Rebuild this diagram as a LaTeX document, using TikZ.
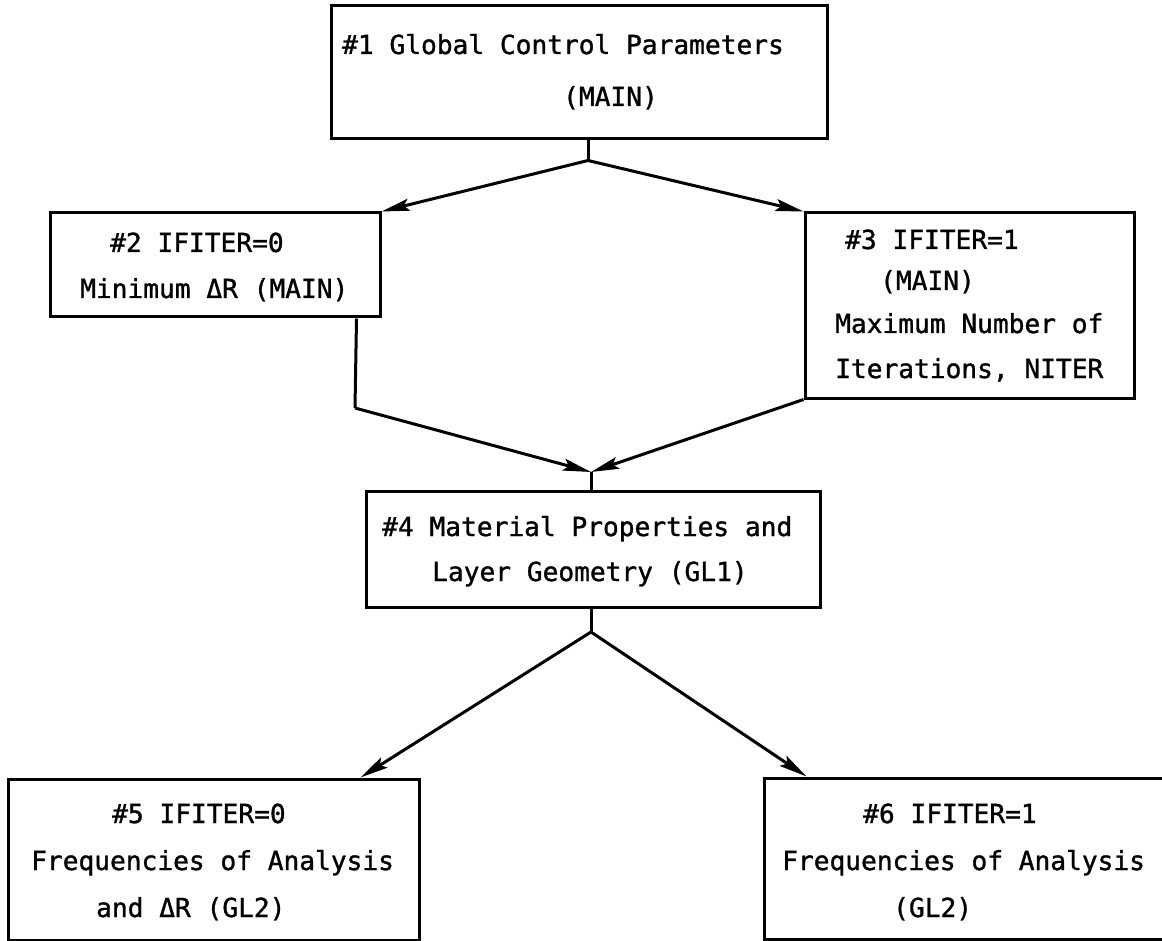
\documentclass[tikz,border=0pt]{standalone}
\usepackage{fontspec}
\newfontfamily\diagfont[FakeBold=1.2]{DejaVu Sans Mono}
\usetikzlibrary{arrows.meta,calc}
\begin{document}
\begin{tikzpicture}[x=1pt,y=-1pt,
  box/.style={draw,line width=3pt,inner sep=0pt},
  txt/.style={anchor=base west,inner sep=0pt,font=\diagfont\fontsize{26.2}{30}\selectfont},
  link/.style={line width=3pt},
  arr/.style={line width=3pt,-{Stealth[length=28pt,width=12pt,inset=5pt]}}]
\useasboundingbox (0,0) rectangle (1162,941);
% boxes
\node[box,minimum width=496pt,minimum height=133pt] (b1) at (579,72.5) {};
\node[box,minimum width=330pt,minimum height=104pt] (b2) at (215,265) {};
\node[box,minimum width=329pt,minimum height=185pt] (b3) at (969.5,305.5) {};
\node[box,minimum width=454pt,minimum height=116pt] (b4) at (593,549) {};
\node[box,minimum width=411pt,minimum height=161pt] (b5) at (213.5,859.5) {};
\node[box,minimum width=411pt,minimum height=161pt] (b6) at (969.5,858.5) {};
% texts
\node[txt] (t1a) at (342,54) {\#1 Global Control Parameters};
\node[txt] (t1b) at (563,106) {(MAIN)};
\node[txt] (t2a) at (110,252) {\#2 IFITER=0};
\node[txt] (t2b) at (80,298) {Minimum ΔR (MAIN)};
\node[txt] (t3a) at (845,249) {\#3 IFITER=1};
\node[txt] (t3b) at (880,290) {(MAIN)};
\node[txt] (t3c) at (835,333) {Maximum Number of};
\node[txt] (t3d) at (835,378) {Iterations, NITER};
\node[txt] (t4a) at (382,536) {\#4 Material Properties and};
\node[txt] (t4b) at (432,581) {Layer Geometry (GL1)};
\node[txt] (t5a) at (112,823) {\#5 IFITER=0};
\node[txt] (t5b) at (31,870) {Frequencies of Analysis};
\node[txt] (t5c) at (96,917) {and ΔR (GL2)};
\node[txt] (t6a) at (863,823) {\#6 IFITER=1};
\node[txt] (t6b) at (782,870) {Frequencies of Analysis};
\node[txt] (t6c) at (893,917) {(GL2)};
% connectors
\coordinate (j1) at ($(b1.south)+(9,20)$);
\draw[link] ($(b1.south)+(9,0)$) -- (j1);
\draw[arr] (j1) -- (b2.north east);
\draw[arr] (j1) -- (b3.north west);
\coordinate (j2) at (591,472);
\coordinate (c2) at (355,408);
\draw[link] ($(b2.south east)+(-25,0)$) -- (c2);
\draw[arr] (c2) -- (j2);
\draw[arr] (b3.south west) -- (j2);
\draw[link] (j2) -- (b4.north -| j2);
\coordinate (j3) at (591,632);
\draw[link] (b4.south -| j3) -- (j3);
\draw[arr] (j3) -- ($(b5.north west)+(354,0)$);
\draw[arr] (j3) -- ($(b6.north west)+(44,0)$);
\end{tikzpicture}
\end{document}
